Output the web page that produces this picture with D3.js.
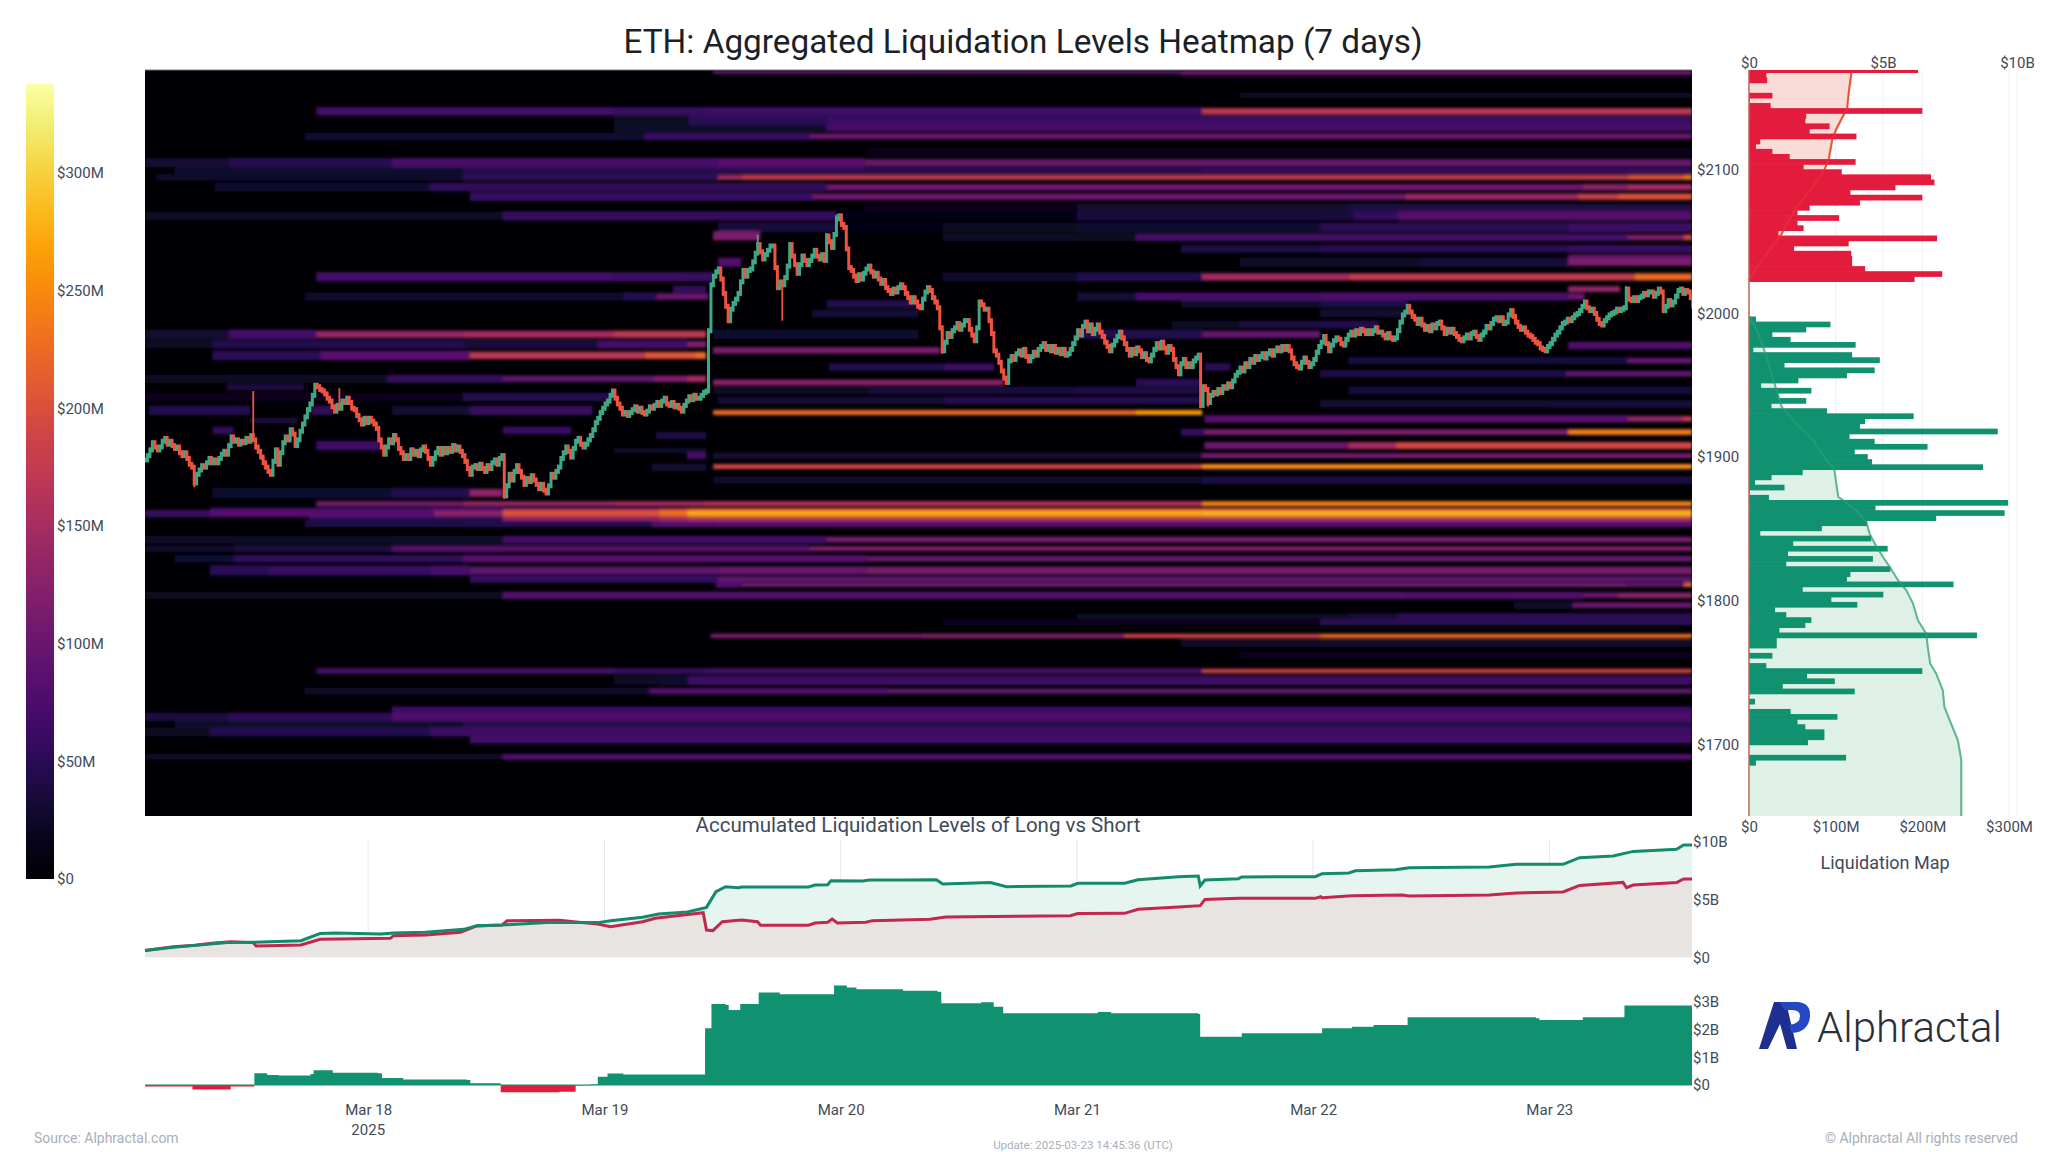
<!DOCTYPE html>
<html>
<head>
<meta charset="utf-8">
<title>ETH liquidation heatmap</title>
<script src="https://cdn.jsdelivr.net/npm/d3@7/dist/d3.min.js"></script>
<style>
  body { margin: 0; background: #fff; }
  text { font-family: Roboto, sans-serif; }
  .tick text { fill: #3f4a59; font-size: 15px; font-family: Roboto, sans-serif; }
</style>
</head>
<body>
<div id="chart"></div>
<script>
// Candles: 15 minute closes
var candleCloses = [
  1898,1901,1905,1910,1907,1905,1907,1911,1913,1909,1911,1908,1906,1907,1903,1901,1903,1899,1895,1893,
  1882,1888,1891,1894,1893,1896,1899,1896,1898,1896,1899,1902,1904,1902,1908,1914,1911,1912,1909,1911,
  1910,1913,1911,1915,1912,1907,1904,1900,1896,1893,1890,1888,1897,1905,1895,1903,1910,1914,1912,1919,
  1916,1908,1912,1918,1923,1928,1933,1937,1943,1950,1949,1947,1946,1944,1941,1939,1935,1932,1936,1934,
  1939,1938,1941,1938,1934,1933,1929,1926,1923,1927,1924,1927,1925,1923,1920,1912,1907,1902,1907,1912,
  1910,1915,1912,1906,1903,1899,1901,1899,1905,1902,1904,1901,1905,1907,1904,1899,1895,1899,1903,1906,
  1902,1906,1903,1906,1904,1908,1905,1907,1904,1901,1897,1892,1888,1893,1894,1892,1895,1892,1890,1894,
  1892,1896,1898,1895,1899,1901,1873,1880,1888,1884,1890,1894,1890,1886,1881,1885,1883,1887,1884,1881,
  1878,1881,1877,1875,1880,1888,1886,1890,1893,1899,1903,1907,1904,1900,1906,1911,1913,1909,1907,1909,
  1912,1915,1919,1924,1927,1931,1934,1937,1939,1943,1946,1941,1937,1934,1930,1931,1929,1931,1933,1935,
  1932,1934,1931,1930,1932,1935,1934,1936,1938,1936,1939,1941,1937,1936,1938,1935,1936,1934,1932,1936,
  1939,1942,1940,1943,1941,1941,1943,1945,1946,1988,2020,2026,2029,2031,2024,2014,2005,1995,2003,2007,
  2010,2014,2022,2030,2026,2030,2031,2036,2042,2048,2043,2038,2041,2044,2047,2047,2032,2018,2022,2020,
  2025,2033,2048,2040,2034,2028,2034,2040,2037,2034,2037,2040,2044,2040,2038,2041,2037,2054,2050,2046,
  2055,2066,2068,2062,2060,2045,2032,2030,2026,2023,2027,2024,2028,2031,2033,2029,2026,2028,2024,2021,
  2023,2018,2016,2014,2017,2015,2018,2020,2018,2014,2011,2008,2011,2008,2005,2004,2010,2015,2018,2016,
  2011,2008,2004,1990,1974,1980,1986,1984,1988,1990,1993,1989,1992,1995,1995,1989,1985,1981,1990,2008,
  2006,2003,2003,1995,1986,1974,1971,1966,1960,1955,1952,1967,1970,1968,1972,1974,1971,1975,1970,1967,
  1970,1973,1971,1975,1977,1979,1975,1977,1974,1977,1973,1975,1972,1975,1971,1972,1975,1979,1983,1988,
  1985,1991,1994,1988,1992,1986,1989,1992,1987,1984,1980,1977,1974,1978,1981,1984,1987,1983,1979,1975,
  1971,1975,1972,1976,1974,1970,1972,1968,1967,1971,1975,1979,1976,1980,1976,1973,1977,1975,1968,1963,
  1958,1965,1968,1963,1965,1963,1967,1969,1971,1936,1949,1947,1938,1943,1945,1944,1947,1945,1949,1948,
  1951,1949,1953,1957,1959,1962,1960,1965,1963,1968,1966,1970,1968,1970,1972,1969,1972,1974,1971,1974,
  1976,1974,1977,1975,1977,1974,1969,1965,1963,1962,1966,1969,1966,1963,1965,1968,1973,1977,1980,1984,
  1979,1974,1978,1981,1983,1982,1979,1978,1982,1985,1987,1985,1988,1986,1989,1988,1986,1988,1986,1988,
  1990,1987,1987,1985,1983,1986,1983,1982,1983,1988,1994,1999,2001,2005,2001,1998,1996,1993,1996,1992,
  1989,1991,1988,1992,1990,1993,1994,1990,1986,1989,1987,1989,1986,1984,1982,1981,1983,1985,1983,1986,
  1987,1984,1982,1985,1987,1991,1990,1993,1996,1997,1995,1997,1993,1994,1999,2002,1998,1994,1991,1989,
  1990,1987,1985,1984,1982,1980,1979,1976,1975,1974,1977,1979,1982,1985,1987,1990,1993,1994,1996,1995,
  1997,1999,2000,2002,2005,2008,2004,2002,2003,2000,1996,1993,1992,1995,1997,1999,2000,2001,2003,2002,
  2003,2004,2017,2010,2009,2011,2009,2011,2012,2014,2013,2015,2015,2012,2014,2017,2015,2002,2005,2009,
  2006,2008,2012,2016,2017,2014,2016,2015,2011,2005
];
var wickCandles = [20, 44, 79, 146, 249, 259, 277, 281, 324, 429, 432, 602];
var wickPrices = [1879, 1946, 1948, 1871, 2055, 1995, 2056, 2069, 1972, 1934, 1935, 2019];

// Heatmap rows: price level, row thickness in $, and [day, $M, day, $M ...] steps (day 18 = Mar 18)
var heatPrices = [
  2168, 2165, 2152, 2140.8, 2134.5, 2129.5, 2123.4, 2113, 2105, 2099.5, 2094.8, 2088, 2081.4, 2074, 2068, 2060,
  2056, 2053, 2045, 2039, 2035.7, 2025.5, 2017, 2011.8, 2006.7, 2000, 1992.3, 1985.5, 1978.5, 1977.7, 1974.3,
  1970.8, 1967.2, 1962.7, 1958, 1954.5, 1952, 1948.7, 1946.4, 1941.8, 1939.5, 1937, 1932.5, 1931, 1926.6, 1925.5,
  1918.6, 1917.4, 1915, 1908, 1908, 1904.6, 1901, 1893.4, 1893, 1884, 1875, 1867.5, 1863, 1857, 1860.6, 1853.6,
  1842.5, 1836.2, 1829.2, 1821, 1815, 1811, 1803.7, 1796.8, 1789, 1785, 1775.4, 1770, 1762, 1751, 1744.5, 1737,
  1723.7, 1719, 1714.4, 1708.6, 1703.3, 1691.2
];
var heatSpans = [
  2.5, 3, 3, 4.5, 5, 4, 4, 4, 5, 3.5, 3.5, 4.5, 4.5, 4, 5, 5,
  3, 4, 4, 4, 5, 5, 4, 4.5, 4, 4, 4, 5, 4.5, 4, 4.5,
  5, 4, 4, 4, 4.5, 4, 3, 4, 4.5, 4, 4, 5, 3.5, 4, 3,
  4, 4, 4, 5, 5, 3, 3.5, 3.5, 4, 4, 5.5, 3.5, 3, 3, 4, 4,
  4, 3.5, 4, 5.5, 4, 3, 4, 4, 3.5, 3.5, 3, 4, 4, 3, 5, 3.5,
  4, 4.5, 4.5, 5, 4.5, 3
];
var heatSteps = [
  [19.46,90, 21.44,110],
  [21.44,18],
  [21.69,20],
  [17.78,70, 19.04,60, 19.42,68, 21.53,172],
  [19.04,22, 19.355,50, 19.94,62],
  [19.04,25, 19.94,72],
  [17.73,28, 19.17,60, 19.87,102],
  [20.11,18],
  [17.055,30, 17.41,48, 18.10,75, 19.48,88, 20.1,98],
  [17.18,28, 18.40,48, 21.53,55],
  [17.1,25, 18.40,50, 19.48,145, 19.58,176, 23.33,205, 23.57,235],
  [17.35,28, 18.26,55, 19.94,105, 23.14,128, 23.33,150],
  [18.43,62, 19.88,105, 22.39,140, 23.12,178, 23.29,200],
  [20.1,18, 21.0,30, 22.15,40],
  [17.055,22, 18.57,58, 19.98,15, 21.0,35, 22.17,55, 22.36,85],
  [19.48,35, 19.98,12, 20.43,20, 21.0,28, 22.03,50, 23.08,65],
  [19.46,110, 19.66,0],
  [19.46,120, 19.66,0, 20.43,22, 21.25,70, 23.33,120, 23.57,190],
  [21.44,40, 22.03,50, 23.08,62],
  [23.08,100],
  [19.48,80, 19.58,0, 21.69,25, 22.45,35, 23.08,115],
  [17.78,70, 19.04,65, 19.35,60, 19.46,0, 20.43,25, 21.0,45, 21.53,150, 22.15,175, 23.36,225],
  [19.29,55, 19.43,0, 23.08,135, 23.3,0],
  [17.73,24, 19.08,45, 19.22,100, 19.44,0, 21.0,30, 21.25,70, 22.03,75, 23.08,100, 23.15,0],
  [19.94,46, 20.33,0, 21.44,25, 22.03,40, 22.4,0],
  [19.88,32, 20.33,0, 22.03,30, 22.39,0],
  [21.4,20, 21.69,38, 22.03,45, 22.28,0],
  [17.055,30, 17.41,70, 17.78,135, 18.40,150, 19.04,170, 19.43,0, 19.46,28, 20.33,0, 21.0,45, 21.53,95, 22.03,0],
  [17.055,22, 17.34,45, 18.40,35, 18.97,70, 19.35,120, 19.43,0],
  [23.08,80],
  [19.46,115, 20.42,0],
  [17.34,50, 17.8,88, 18.43,170, 19.17,205, 19.38,225, 19.43,0],
  [22.15,35, 23.33,95],
  [19.95,45, 20.44,65, 20.65,0, 21.54,50, 21.65,0],
  [22.03,40, 23.07,90],
  [17.055,20, 18.08,55, 18.57,90, 19.21,120, 19.35,150, 19.43,0],
  [19.46,125, 20.69,0, 21.25,50, 21.52,0],
  [17.4,40, 17.73,0],
  [19.46,22, 20.12,35, 20.99,40, 21.52,0, 22.15,35],
  [17.055,18, 18.4,45, 19.03,0],
  [19.48,30, 20.44,45, 21.52,0],
  [22.03,30, 23.0,36],
  [17.07,45, 17.5,0, 17.76,55, 17.85,0, 18.1,30, 18.43,60, 18.95,0],
  [19.46,225, 21.25,262, 21.53,0],
  [21.54,85, 23.33,135, 23.56,170],
  [17.5,35, 17.7,0],
  [17.34,55, 17.43,0, 18.57,60, 18.86,0],
  [21.44,55, 21.54,115, 23.08,240],
  [19.22,40, 19.43,0],
  [17.78,65, 18.05,0],
  [21.54,100, 22.15,150, 22.35,190],
  [19.04,25, 19.43,0],
  [19.35,75, 19.43,0, 19.46,30, 21.53,110],
  [19.46,190, 21.53,252],
  [19.2,30, 19.43,0],
  [19.46,25, 21.53,40],
  [17.34,28, 18.1,45, 18.43,130, 18.57,0],
  [17.78,110, 18.40,135, 19.04,150, 19.42,165, 21.53,245],
  [17.33,60, 18.26,85, 18.57,150, 19.23,180, 19.35,205],
  [17.75,45, 18.57,130, 19.23,150, 19.35,165],
  [17.055,60, 17.33,85, 18.28,130, 18.57,205, 19.23,232, 19.35,272, 21.53,278],
  [17.73,40, 18.4,45, 19.2,80, 19.46,85],
  [17.055,25, 18.57,70, 19.94,112],
  [17.055,25, 17.43,38, 18.10,85, 19.87,118],
  [17.18,28, 17.43,55, 18.40,88, 20.11,100],
  [17.33,50, 17.58,62, 18.26,72, 18.43,90, 19.48,104, 20.11,112],
  [18.43,60, 19.48,92],
  [19.47,78, 19.58,108, 23.33,95, 23.57,220],
  [17.055,22, 18.57,85, 22.39,80, 23.14,100, 23.29,125],
  [22.85,25, 23.1,100],
  [21.0,20, 22.15,30, 22.36,50],
  [20.43,18, 22.03,50],
  [19.45,115, 20.34,125, 21.2,185, 22.03,225],
  [21.44,25],
  [21.69,18],
  [17.78,75, 19.04,60, 19.42,70, 21.53,185],
  [19.04,22, 19.23,28, 19.355,65],
  [17.73,25, 19.19,80, 20.2,95],
  [18.10,65],
  [17.055,38, 17.41,52, 18.10,78],
  [17.18,25, 18.40,44],
  [17.055,20, 17.33,45, 18.26,64],
  [18.43,68],
  [17.055,25, 18.57,85]
];

// Liquidation map bins, $M, top to bottom
var shortLiq = [195,20,21,0,0,27,1,25,200,66,65,93,70,124,13,8,27,47,123,63,107,210,214,169,117,200,128,70,56,104,56,63,34,217,115,52,118,119,119,134,223,191];
var longLiq = [8,94,66,27,48,123,5,119,151,41,145,113,57,14,72,34,66,26,90,190,134,128,287,116,145,206,122,137,142,270,62,26,7,41,1,23,299,146,295,216,136,84,13,141,51,160,45,143,43,163,117,113,236,62,155,95,125,30,43,72,65,35,263,32,32,0,27,0,20,200,67,99,39,122,0,7,0,48,102,56,65,87,87,68,0,0,112,8];
var shortTopPrice = 2171.45;
var longTopPrice = 1997.9;
var binSize = 3.55;

// Cumulative curves on the map, $B by price
var shortCumPrices = [2168.6,2155.2,2142.4,2135.5,2128.5,2121.6,2107.6,2100.7,2094.9,2085.6,2074,2062.4,2055.4,2046.1,2032.2,2023];
var shortCumValues = [3.83,3.73,3.66,3.45,3.26,3.11,2.98,2.83,2.64,2.27,1.77,1.40,1.22,0.84,0.29,0];
var longCumPrices = [1997.9,1985.9,1969.6,1958,1946.4,1934.8,1923.2,1911.6,1897.7,1891.9,1883.8,1872.2,1869.9,1862.9,1854.8,1846.7,1839.8,1830.4,1823.5,1814.2,1807.2,1798,1786.4,1777.1,1767.8,1756.2,1749.3,1737.6,1726,1714.4,1702.9,1693.6,1689,1650];
var longCumValues = [0,0.35,0.66,0.84,1.03,1.22,1.77,2.4,2.89,3.18,3.24,3.33,3.51,4.0,4.38,4.5,4.69,5.0,5.25,5.56,5.87,6.12,6.3,6.61,6.67,6.76,6.98,7.23,7.29,7.54,7.79,7.88,7.92,7.92];

// Accumulated levels, $B by day
var longAccDays = [17.055,17.175,17.269,17.405,17.513,17.715,17.796,17.864,18.053,18.107,18.242,18.405,18.459,18.567,18.756,18.972,19.026,19.161,19.229,19.351,19.432,19.472,19.513,19.567,19.58,19.864,19.891,19.945,19.959,20.094,20.121,20.269,20.405,20.432,20.634,20.702,20.975,21.004,21.202,21.259,21.429,21.514,21.522,21.542,21.684,21.698,22.009,22.038,22.151,22.179,22.349,22.406,22.746,22.859,23.058,23.128,23.27,23.355,23.539,23.568,23.604];
var longAccValues = [0.58,0.86,1.04,1.27,1.30,1.44,2.05,2.10,2.02,2.10,2.16,2.42,2.74,2.80,3.00,3.00,3.17,3.46,3.75,3.92,4.32,5.68,6.11,6.02,6.08,6.08,6.25,6.28,6.63,6.60,6.69,6.69,6.71,6.34,6.46,6.11,6.17,6.40,6.40,6.71,6.97,7.03,6.17,6.69,6.80,6.95,6.97,7.23,7.29,7.49,7.58,7.75,7.81,8.04,8.04,8.62,8.76,9.16,9.34,9.71,9.71];
var shortAccDays = [17.055,17.175,17.269,17.337,17.418,17.513,17.526,17.715,17.796,18.094,18.107,18.242,18.391,18.459,18.567,18.588,18.81,18.891,18.972,19.026,19.161,19.215,19.418,19.432,19.459,19.499,19.58,19.648,19.661,19.864,19.891,19.945,19.964,19.986,20.107,20.134,20.378,20.445,20.972,21.004,21.202,21.259,21.429,21.522,21.542,21.684,22.009,22.032,22.038,22.165,22.378,22.406,22.746,22.859,23.058,23.128,23.312,23.327,23.355,23.539,23.568,23.604];
var shortAccValues = [0.58,0.92,1.04,1.21,1.35,1.27,0.98,1.07,1.56,1.64,1.87,1.93,2.16,2.71,2.80,3.17,3.20,3.03,2.88,2.65,3.08,3.37,3.86,2.36,2.31,3.08,3.23,3.08,2.77,2.77,2.97,3.03,3.31,2.97,3.03,3.17,3.29,3.49,3.60,3.78,3.80,4.15,4.35,4.47,5.01,5.10,5.10,5.24,5.16,5.33,5.39,5.30,5.39,5.56,5.65,6.22,6.48,6.02,6.25,6.46,6.77,6.77];

// Long minus short, $B by day (steps)
var netDays = [17.055,17.256,17.418,17.432,17.518,17.572,17.62,17.756,17.769,17.85,18.04,18.058,18.148,18.418,18.432,18.553,18.561,18.81,18.878,18.94,18.972,19.013,19.08,19.426,19.453,19.513,19.526,19.575,19.653,19.742,19.972,20.026,20.067,20.264,20.41,20.426,20.594,20.648,20.688,21.089,21.145,21.514,21.522,21.698,22.038,22.165,22.256,22.4,22.944,22.958,23.142,23.318,23.604];
var netValues = [-0.05,-0.16,-0.05,-0.05,0.42,0.36,0.34,0.40,0.53,0.44,0.42,0.25,0.20,0.18,0.06,0.06,-0.26,-0.24,-0.02,0.03,0.30,0.41,0.38,2.04,2.92,2.88,2.70,2.92,3.33,3.27,3.58,3.51,3.45,3.39,3.36,2.94,2.98,2.82,2.58,2.63,2.58,2.56,1.74,1.86,2.04,2.10,2.16,2.44,2.40,2.34,2.44,2.86,2.86];

// Tick labels
var priceTicks = [1700, 1800, 1900, 2000, 2100];
var colorTicks = [0, 50, 100, 150, 200, 250, 300];
var dateTicks = [18, 19, 20, 21, 22, 23];
var mapTopTicks = [0, 5, 10];
var mapBottomTicks = [0, 100, 200, 300];
var accTicks = [0, 5, 10];
var netTicks = [0, 1, 2, 3];

var svgWidth = 2048;
var svgHeight = 1152;
var firstDay = 17.055;
var lastDay = 23.604;
var candleStep = 1 / 96;

var plot = { left: 145, right: 1692, top: 70, bottom: 816 };
var green = "#10916f";
var red = "#e31b3d";

function dayDate(d) {
  return new Date(Date.UTC(2025, 2, 1) + (d - 1) * 864e5);
}

var svg = d3.select("#chart")
  .append("svg")
  .attr("width", svgWidth)
  .attr("height", svgHeight)
  .style("display", "block");

// Scales
var xTime = d3.scaleUtc()
  .domain([dayDate(firstDay), dayDate(lastDay)])
  .range([plot.left, plot.right]);
var yPrice = d3.scaleLinear()
  .domain([1650, 2169.6])
  .range([plot.bottom, plot.top]);
var heatColor = d3.scaleSequential(d3.interpolateInferno).domain([0, 338]);
var yColor = d3.scaleLinear().domain([0, 338]).range([879, 83.5]);
var xMapTop = d3.scaleLinear().domain([0, 10]).range([1749, 2017]);
var xMapBottom = d3.scaleLinear().domain([0, 300]).range([1749, 2009]);
var yAcc = d3.scaleLinear().domain([0, 10]).range([957.3, 841.7]);
var yNet = d3.scaleLinear().domain([0, 3]).range([1085, 1001.7]);

var defs = svg.append("defs");
defs.append("clipPath").attr("id", "plotClip")
  .append("rect")
  .attr("x", plot.left).attr("y", plot.top)
  .attr("width", plot.right - plot.left).attr("height", plot.bottom - plot.top);
defs.append("clipPath").attr("id", "mapClip")
  .append("rect")
  .attr("x", 1749).attr("y", plot.top)
  .attr("width", 290).attr("height", plot.bottom - plot.top);
defs.append("filter").attr("id", "soft")
  .attr("filterUnits", "userSpaceOnUse")
  .attr("x", 0).attr("y", 0).attr("width", svgWidth).attr("height", svgHeight)
  .append("feGaussianBlur").attr("stdDeviation", "1.8 1.5");

// Title
svg.append("text")
  .attr("x", 1023).attr("y", 53)
  .attr("text-anchor", "middle")
  .attr("font-size", 33.3)
  .attr("fill", "#1b1f27")
  .text("ETH: Aggregated Liquidation Levels Heatmap (7 days)");

// Heatmap cells built from the rows
var heatCells = [];
heatPrices.forEach(function(price, r) {
  var steps = heatSteps[r];
  for (var i = 0; i < steps.length; i += 2) {
    if (steps[i + 1] > 0) {
      heatCells.push({
        price: price,
        span: heatSpans[r],
        from: steps[i],
        to: i + 2 < steps.length ? steps[i + 2] : lastDay,
        value: steps[i + 1]
      });
    }
  }
});

// dim rows spread a little wider than bright lines
function rowSpan(d) {
  return d.value < 90 ? d.span * 1.3 : d.span;
}

var plotGroup = svg.append("g").attr("clip-path", "url(#plotClip)");
plotGroup.append("rect")
  .attr("x", plot.left).attr("y", plot.top)
  .attr("width", plot.right - plot.left).attr("height", plot.bottom - plot.top)
  .attr("fill", "#000004");
plotGroup.append("g")
  .attr("filter", "url(#soft)")
  .selectAll("rect")
  .data(heatCells.slice().sort((a, b) => a.value - b.value))
  .enter()
  .append("rect")
  .attr("x", d => xTime(dayDate(d.from)))
  .attr("width", d => xTime(dayDate(d.to)) - xTime(dayDate(d.from)))
  .attr("y", d => yPrice(d.price + rowSpan(d) / 2))
  .attr("height", d => yPrice(d.price - rowSpan(d) / 2) - yPrice(d.price + rowSpan(d) / 2))
  .attr("fill", d => heatColor(d.value));

// Candles
var candles = candleCloses.map(function(close, i) {
  var open = i > 0 ? candleCloses[i - 1] : close;
  return { i: i, open: open, close: close, up: close >= open };
});
var candleGroup = plotGroup.append("g");
candleGroup.selectAll("line")
  .data(wickCandles)
  .enter()
  .append("line")
  .attr("x1", d => xTime(dayDate(firstDay + d * candleStep)))
  .attr("x2", d => xTime(dayDate(firstDay + d * candleStep)))
  .attr("y1", (d, i) => yPrice(wickPrices[i]))
  .attr("y2", d => yPrice(candleCloses[d]))
  .attr("stroke", d => candles[d].up ? "#3fa986" : "#f0533f")
  .attr("stroke-width", 1.8);
candleGroup.selectAll("rect")
  .data(candles)
  .enter()
  .append("rect")
  .attr("x", d => xTime(dayDate(firstDay + d.i * candleStep)) - 1.5)
  .attr("width", 3)
  .attr("y", d => yPrice(Math.max(d.open, d.close)) - 2.5)
  .attr("height", d => Math.abs(yPrice(d.open) - yPrice(d.close)) + 5)
  .attr("fill", d => d.up ? "#3fa986" : "#f0533f");

svg.append("line")
  .attr("x1", plot.left).attr("x2", plot.right)
  .attr("y1", plot.top).attr("y2", plot.top)
  .attr("stroke", "#77757a");

// Price axis
var priceAxis = svg.append("g")
  .attr("transform", `translate(${plot.right}, 0)`)
  .call(d3.axisRight(yPrice).tickValues(priceTicks).tickSize(0).tickPadding(5).tickFormat(d => "$" + d));
priceAxis.select(".domain").remove();

// Colour legend
var legendGradient = defs.append("linearGradient")
  .attr("id", "legendGradient")
  .attr("x1", 0).attr("x2", 0).attr("y1", 1).attr("y2", 0);
legendGradient.selectAll("stop")
  .data(d3.range(0, 1.01, 0.05))
  .enter()
  .append("stop")
  .attr("offset", d => d)
  .attr("stop-color", d => d3.interpolateInferno(d));
svg.append("rect")
  .attr("x", 26).attr("width", 28)
  .attr("y", yColor(338)).attr("height", yColor(0) - yColor(338))
  .attr("fill", "url(#legendGradient)");
var colorAxis = svg.append("g")
  .attr("transform", "translate(54, 0)")
  .call(d3.axisRight(yColor).tickValues(colorTicks).tickSize(0).tickPadding(3).tickFormat(d => d ? "$" + d + "M" : "$0"));
colorAxis.select(".domain").remove();

// Liquidation map
var mapGroup = svg.append("g");
mapGroup.selectAll("line.gridTop")
  .data(mapTopTicks)
  .enter()
  .append("line")
  .attr("class", "gridTop")
  .attr("x1", d => xMapTop(d)).attr("x2", d => xMapTop(d))
  .attr("y1", plot.top).attr("y2", plot.bottom)
  .attr("stroke", "#edf0f2");
mapGroup.selectAll("line.gridBottom")
  .data(mapBottomTicks)
  .enter()
  .append("line")
  .attr("class", "gridBottom")
  .attr("x1", d => xMapBottom(d)).attr("x2", d => xMapBottom(d))
  .attr("y1", plot.top).attr("y2", plot.bottom)
  .attr("stroke", "#edf0f2");

var shortArea = d3.area()
  .x0(xMapTop(0))
  .x1((d, i) => xMapTop(shortCumValues[i]))
  .y((d, i) => yPrice(shortCumPrices[i]));
var longArea = d3.area()
  .x0(xMapTop(0))
  .x1((d, i) => xMapTop(longCumValues[i]))
  .y((d, i) => yPrice(longCumPrices[i]));
var shortLine = d3.line()
  .x((d, i) => xMapTop(shortCumValues[i]))
  .y((d, i) => yPrice(shortCumPrices[i]));
var longLine = d3.line()
  .x((d, i) => xMapTop(longCumValues[i]))
  .y((d, i) => yPrice(longCumPrices[i]));

mapGroup.append("path").attr("d", shortArea(shortCumPrices)).attr("fill", "#f9dcd6");
mapGroup.append("path").attr("d", longArea(longCumPrices)).attr("fill", "#dff0e6");
mapGroup.append("path").attr("d", shortLine(shortCumPrices))
  .attr("fill", "none").attr("stroke", "#e8573a").attr("stroke-width", 2);
mapGroup.append("path").attr("d", longLine(longCumPrices))
  .attr("fill", "none").attr("stroke", "#5fb88d").attr("stroke-width", 2);

// bars overlap by a hair so no white seams show between bins
var mapBars = mapGroup.append("g").attr("clip-path", "url(#mapClip)");
mapBars.selectAll("rect.short")
  .data(shortLiq)
  .enter()
  .append("rect")
  .attr("class", "short")
  .attr("x", xMapBottom(0))
  .attr("width", d => xMapBottom(d) - xMapBottom(0))
  .attr("y", (d, i) => yPrice(shortTopPrice - i * binSize))
  .attr("height", yPrice(0) - yPrice(binSize) + 0.6)
  .attr("fill", red);
mapBars.selectAll("rect.long")
  .data(longLiq)
  .enter()
  .append("rect")
  .attr("class", "long")
  .attr("x", xMapBottom(0))
  .attr("width", d => xMapBottom(d) - xMapBottom(0))
  .attr("y", (d, i) => yPrice(longTopPrice - i * binSize))
  .attr("height", yPrice(0) - yPrice(binSize) + 0.6)
  .attr("fill", green);

// the curves show faintly through the bars
mapGroup.append("path").attr("d", shortLine(shortCumPrices))
  .attr("fill", "none").attr("stroke", "#e8573a").attr("stroke-width", 2).attr("opacity", 0.3);
mapGroup.append("path").attr("d", longLine(longCumPrices))
  .attr("fill", "none").attr("stroke", "#5fb88d").attr("stroke-width", 2).attr("opacity", 0.25);
mapGroup.append("line")
  .attr("x1", xMapBottom(0)).attr("x2", xMapBottom(0))
  .attr("y1", plot.top).attr("y2", plot.bottom)
  .attr("stroke", "#bd6a5a").attr("stroke-width", 1.5);

var mapTopAxis = svg.append("g")
  .attr("transform", "translate(0, 68)")
  .call(d3.axisTop(xMapTop).tickValues(mapTopTicks).tickSize(0).tickPadding(0).tickFormat(d => d ? "$" + d + "B" : "$0"));
mapTopAxis.select(".domain").remove();
var mapBottomAxis = svg.append("g")
  .attr("transform", `translate(0, ${plot.bottom})`)
  .call(d3.axisBottom(xMapBottom).tickValues(mapBottomTicks).tickSize(0).tickPadding(5).tickFormat(d => d ? "$" + d + "M" : "$0"));
mapBottomAxis.select(".domain").remove();
svg.append("text")
  .attr("x", 1885).attr("y", 869)
  .attr("text-anchor", "middle")
  .attr("font-size", 18)
  .attr("fill", "#3f4a59")
  .text("Liquidation Map");

// Accumulated long vs short
svg.append("text")
  .attr("x", 918).attr("y", 832)
  .attr("text-anchor", "middle")
  .attr("font-size", 20.5)
  .attr("fill", "#3f4a59")
  .text("Accumulated Liquidation Levels of Long vs Short");

svg.append("g").selectAll("line")
  .data(dateTicks)
  .enter()
  .append("line")
  .attr("x1", d => xTime(dayDate(d))).attr("x2", d => xTime(dayDate(d)))
  .attr("y1", 840).attr("y2", 957)
  .attr("stroke", "#e6e9ec");

var longAccArea = d3.area()
  .x((d, i) => xTime(dayDate(longAccDays[i])))
  .y0(yAcc(0))
  .y1((d, i) => yAcc(longAccValues[i]));
var shortAccArea = d3.area()
  .x((d, i) => xTime(dayDate(shortAccDays[i])))
  .y0(yAcc(0))
  .y1((d, i) => yAcc(shortAccValues[i]));
var longAccLine = d3.line()
  .x((d, i) => xTime(dayDate(longAccDays[i])))
  .y((d, i) => yAcc(longAccValues[i]));
var shortAccLine = d3.line()
  .x((d, i) => xTime(dayDate(shortAccDays[i])))
  .y((d, i) => yAcc(shortAccValues[i]));

svg.append("path").attr("d", longAccArea(longAccDays)).attr("fill", "#e7f5f1");
svg.append("path").attr("d", shortAccArea(shortAccDays)).attr("fill", "#e8e4e2");
svg.append("path").attr("d", shortAccLine(shortAccDays))
  .attr("fill", "none").attr("stroke", "#c2274d").attr("stroke-width", 3);
svg.append("path").attr("d", longAccLine(longAccDays))
  .attr("fill", "none").attr("stroke", "#138a6c").attr("stroke-width", 3);

var accAxis = svg.append("g")
  .attr("transform", `translate(${plot.right}, 0)`)
  .call(d3.axisRight(yAcc).tickValues(accTicks).tickSize(0).tickPadding(1).tickFormat(d => d ? "$" + d + "B" : "$0"));
accAxis.select(".domain").remove();

// Net long minus short
var netArea = d3.area()
  .curve(d3.curveStepAfter)
  .x((d, i) => xTime(dayDate(netDays[i])))
  .y0(yNet(0));
svg.append("path")
  .attr("d", netArea.y1(d => yNet(Math.max(d, 0)))(netValues))
  .attr("fill", green);
svg.append("path")
  .attr("d", netArea.y1(d => yNet(Math.min(d, 0)))(netValues))
  .attr("fill", red);
svg.append("line")
  .attr("x1", plot.left).attr("x2", plot.right)
  .attr("y1", yNet(0)).attr("y2", yNet(0))
  .attr("stroke", green).attr("stroke-width", 1);

var netAxis = svg.append("g")
  .attr("transform", `translate(${plot.right}, 0)`)
  .call(d3.axisRight(yNet).tickValues(netTicks).tickSize(0).tickPadding(1).tickFormat(d => d ? "$" + d + "B" : "$0"));
netAxis.select(".domain").remove();

// Date axis
var dateAxis = svg.append("g")
  .attr("transform", "translate(0, 1099)")
  .call(d3.axisBottom(xTime).tickValues(dateTicks.map(dayDate)).tickSize(0).tickPadding(5).tickFormat(d3.utcFormat("%b %d")));
dateAxis.select(".domain").remove();
svg.append("text")
  .attr("x", xTime(dayDate(18))).attr("y", 1135)
  .attr("text-anchor", "middle")
  .attr("font-size", 15)
  .attr("fill", "#3f4a59")
  .text("2025");

// Footer
svg.append("text")
  .attr("x", 34).attr("y", 1143)
  .attr("font-size", 14).attr("fill", "#a9afb8")
  .text("Source: Alphractal.com");
svg.append("text")
  .attr("x", 2018).attr("y", 1143)
  .attr("text-anchor", "end")
  .attr("font-size", 14).attr("fill", "#a9afb8")
  .text("© Alphractal All rights reserved");
svg.append("text")
  .attr("x", 1083).attr("y", 1149)
  .attr("text-anchor", "middle")
  .attr("font-size", 11.5).attr("fill", "#a9afb8")
  .text("Update: 2025-03-23 14:45:36 (UTC)");

// Logo
svg.append("path")
  .attr("d", "M1759,1049 L1774,1002 L1786,1002 L1797,1049 L1787,1049 L1780,1024 L1768,1049 Z")
  .attr("fill", "#1e2f8f");
svg.append("path")
  .attr("d", "M1780,1002 H1798 Q1811,1003 1810,1017 Q1808,1032 1792,1033 L1789,1025 Q1800,1024 1800,1016 Q1800,1010 1792,1010 L1784,1010 Z")
  .attr("fill", "#2447c4");
svg.append("text")
  .attr("x", 1817).attr("y", 1042)
  .attr("font-size", 42)
  .attr("font-weight", 300)
  .attr("fill", "#2a2f38")
  .text("Alphractal");
</script>
</body>
</html>
